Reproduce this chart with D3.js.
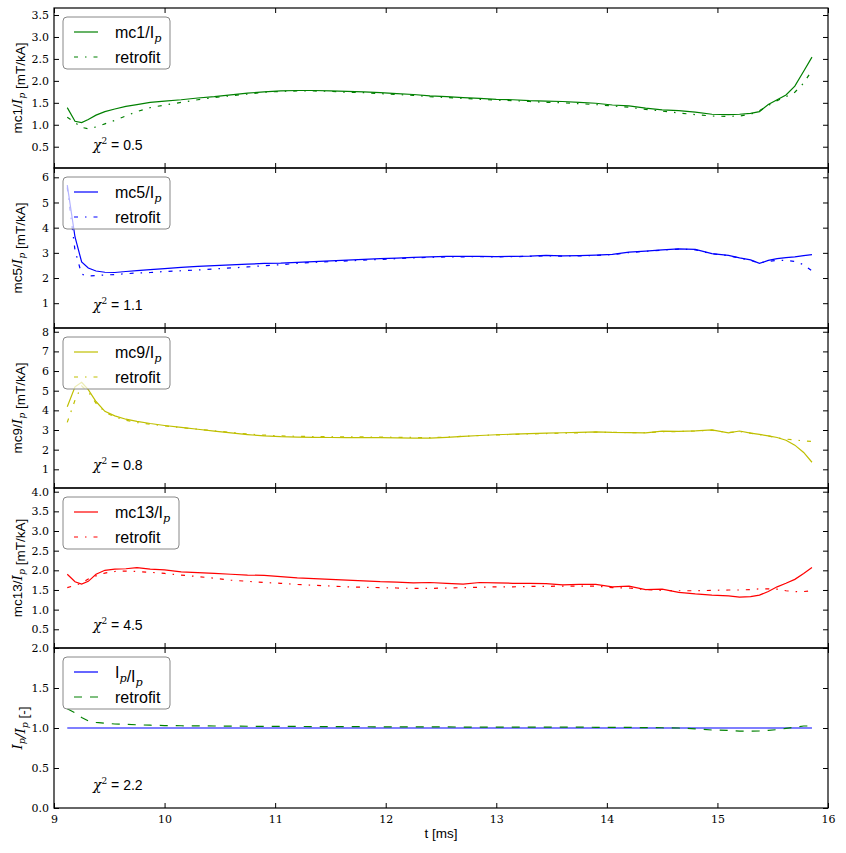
<!DOCTYPE html>
<html>
<head>
<meta charset="utf-8">
<script src="https://cdn.jsdelivr.net/npm/d3@7"></script>
<style>
body { margin: 0; background: #fff; }
.tick text { font-family: "DejaVu Serif", serif; font-size: 11px; fill: #000; }
.tick line { stroke: #000; }
</style>
</head>
<body>
<div id="chart"></div>
<script>
// time base [ms]
var tMs = [9.12, 9.19, 9.25, 9.31, 9.38, 9.46, 9.55, 9.65, 9.75, 9.87,
    10.0, 10.15, 10.3, 10.45, 10.6, 10.75, 10.9, 11.05, 11.2, 11.35,
    11.5, 11.65, 11.8, 11.95, 12.1, 12.25, 12.4, 12.55, 12.7, 12.85,
    13.0, 13.15, 13.3, 13.45, 13.6, 13.75, 13.9, 14.05, 14.2, 14.35,
    14.5, 14.65, 14.8, 14.95, 15.1, 15.2, 15.3, 15.38, 15.46, 15.54,
    15.62, 15.7, 15.78, 15.855];

var mc1 = [1.39, 1.08, 1.05, 1.12, 1.22, 1.30, 1.36, 1.42, 1.46, 1.51,
    1.54, 1.57, 1.61, 1.64, 1.68, 1.72, 1.75, 1.77, 1.78, 1.78,
    1.77, 1.76, 1.75, 1.73, 1.71, 1.69, 1.66, 1.64, 1.62, 1.60,
    1.58, 1.57, 1.55, 1.54, 1.53, 1.51, 1.49, 1.45, 1.43, 1.38,
    1.34, 1.32, 1.29, 1.24, 1.23, 1.24, 1.26, 1.30, 1.46, 1.57,
    1.68, 1.88, 2.22, 2.54];
var mc1Fit = [1.17, 1.05, 0.94, 0.91, 0.95, 1.02, 1.10, 1.20, 1.30, 1.39,
    1.45, 1.51, 1.57, 1.62, 1.66, 1.70, 1.74, 1.76, 1.77, 1.77,
    1.76, 1.74, 1.73, 1.71, 1.69, 1.67, 1.64, 1.62, 1.60, 1.58,
    1.56, 1.55, 1.53, 1.51, 1.50, 1.48, 1.46, 1.43, 1.40, 1.35,
    1.31, 1.27, 1.23, 1.20, 1.19, 1.20, 1.24, 1.32, 1.44, 1.55,
    1.64, 1.74, 1.95, 2.24];

var mc5 = [5.69, 3.63, 2.64, 2.40, 2.28, 2.23, 2.22, 2.26, 2.29, 2.33,
    2.37, 2.42, 2.46, 2.49, 2.52, 2.55, 2.58, 2.59, 2.62, 2.65,
    2.68, 2.71, 2.74, 2.77, 2.79, 2.82, 2.84, 2.86, 2.86, 2.86,
    2.85, 2.86, 2.87, 2.90, 2.88, 2.89, 2.91, 2.94, 3.03, 3.07,
    3.12, 3.16, 3.14, 2.97, 2.90, 2.80, 2.72, 2.58, 2.70, 2.77,
    2.81, 2.84, 2.89, 2.93];
var mc5Fit = [5.60, 3.10, 2.15, 2.08, 2.10, 2.12, 2.14, 2.17, 2.20, 2.22,
    2.26, 2.29, 2.32, 2.36, 2.40, 2.44, 2.49, 2.53, 2.58, 2.62,
    2.65, 2.68, 2.71, 2.74, 2.77, 2.80, 2.82, 2.84, 2.84, 2.85,
    2.84, 2.85, 2.86, 2.88, 2.87, 2.88, 2.90, 2.93, 3.01, 3.06,
    3.11, 3.15, 3.12, 2.96, 2.89, 2.79, 2.70, 2.60, 2.66, 2.70,
    2.70, 2.66, 2.53, 2.28];

var mc9 = [4.18, 5.20, 5.43, 5.05, 4.45, 3.95, 3.72, 3.55, 3.44, 3.33,
    3.23, 3.13, 3.04, 2.94, 2.85, 2.77, 2.70, 2.66, 2.64, 2.63,
    2.62, 2.61, 2.61, 2.61, 2.60, 2.59, 2.59, 2.63, 2.68, 2.72,
    2.76, 2.79, 2.82, 2.84, 2.86, 2.88, 2.91, 2.88, 2.87, 2.85,
    2.94, 2.93, 2.96, 3.01, 2.86, 2.95, 2.84, 2.78, 2.70, 2.62,
    2.48, 2.23, 1.86, 1.36];
var mc9Fit = [3.39, 4.52, 5.24, 4.95, 4.36, 3.92, 3.66, 3.50, 3.38, 3.30,
    3.21, 3.12, 3.04, 2.96, 2.88, 2.80, 2.74, 2.70, 2.68, 2.67,
    2.66, 2.65, 2.65, 2.64, 2.63, 2.62, 2.61, 2.64, 2.68, 2.72,
    2.75, 2.78, 2.80, 2.82, 2.84, 2.86, 2.89, 2.88, 2.87, 2.86,
    2.92, 2.92, 2.95, 2.99, 2.87, 2.92, 2.84, 2.77, 2.70, 2.60,
    2.54, 2.49, 2.45, 2.42];

var mc13 = [1.90, 1.71, 1.65, 1.72, 1.90, 2.00, 2.03, 2.04, 2.07, 2.03,
    2.01, 1.96, 1.94, 1.92, 1.90, 1.88, 1.87, 1.84, 1.81, 1.79,
    1.77, 1.75, 1.73, 1.71, 1.70, 1.68, 1.69, 1.67, 1.65, 1.69,
    1.68, 1.67, 1.67, 1.66, 1.63, 1.64, 1.64, 1.58, 1.60, 1.51,
    1.52, 1.44, 1.40, 1.37, 1.35, 1.32, 1.33, 1.37, 1.46, 1.58,
    1.67, 1.77, 1.92, 2.07];
var mc13Fit = [1.56, 1.62, 1.67, 1.78, 1.86, 1.93, 1.97, 1.98, 1.97, 1.95,
    1.92, 1.88, 1.84, 1.80, 1.75, 1.72, 1.69, 1.67, 1.64, 1.62,
    1.60, 1.58, 1.57, 1.56, 1.55, 1.54, 1.54, 1.55, 1.56, 1.57,
    1.58, 1.58, 1.59, 1.59, 1.60, 1.60, 1.60, 1.56, 1.55, 1.51,
    1.49, 1.48, 1.48, 1.49, 1.50, 1.50, 1.51, 1.53, 1.53, 1.52,
    1.48, 1.46, 1.46, 1.48];

var ip = tMs.map(function () { return 1.0; });
var ipFit = [1.24, 1.19, 1.13, 1.09, 1.07, 1.06, 1.05, 1.045, 1.04, 1.035,
    1.03, 1.028, 1.026, 1.025, 1.024, 1.022, 1.021, 1.02, 1.019, 1.018,
    1.017, 1.016, 1.016, 1.015, 1.015, 1.014, 1.013, 1.013, 1.012, 1.012,
    1.011, 1.011, 1.011, 1.01, 1.01, 1.01, 1.009, 1.008, 1.007, 1.005,
    1.003, 1.0, 0.99, 0.975, 0.97, 0.962, 0.96, 0.963, 0.97, 0.98,
    0.995, 1.01, 1.025, 1.025];

var chi2 = [0.5, 1.1, 0.8, 4.5, 2.2];
var xTicks = [9, 10, 11, 12, 13, 14, 15, 16];
var mc1Ticks = [0.5, 1.0, 1.5, 2.0, 2.5, 3.0, 3.5];
var mc5Ticks = [1, 2, 3, 4, 5, 6];
var mc9Ticks = [1, 2, 3, 4, 5, 6, 7, 8];
var mc13Ticks = [0.5, 1.0, 1.5, 2.0, 2.5, 3.0, 3.5, 4.0];
var ipTicks = [0.0, 0.5, 1.0, 1.5, 2.0];

var width = 846, height = 853;
var left = 54, right = 828, top0 = 8, panelH = 160;
var sans = "'Liberation Sans', Arial, sans-serif";
var serif = "'DejaVu Serif', serif";
var dashDot = "4,7,1.5,7";

var svg = d3.select("#chart").append("svg")
    .attr("width", width)
    .attr("height", height);

var x = d3.scaleLinear().domain([9, 16]).range([left, right]);

var panels = [
    {name: "mc1", meas: mc1, fit: mc1Fit, color: "#008000", dom: [0.015, 3.66], ticks: mc1Ticks, fmt: ".1f", dash: dashDot, legendW: 107},
    {name: "mc5", meas: mc5, fit: mc5Fit, color: "#0000ff", dom: [0.015, 6.37], ticks: mc5Ticks, fmt: "d", dash: dashDot, legendW: 107},
    {name: "mc9", meas: mc9, fit: mc9Fit, color: "#bfbf00", dom: [0.05, 8.19], ticks: mc9Ticks, fmt: "d", dash: dashDot, legendW: 107},
    {name: "mc13", meas: mc13, fit: mc13Fit, color: "#ff0000", dom: [0.024, 4.094], ticks: mc13Ticks, fmt: ".1f", dash: dashDot, legendW: 116},
    {name: "ip", meas: ip, fit: ipFit, color: "#0000ff", fitColor: "#008000", dom: [0, 2], ticks: ipTicks, fmt: ".1f", dash: "8,8", legendW: 107}
];

// writes "I" with an italic p subscript
function addIp(sel, font, size, italicI) {
    sel.append("tspan").attr("font-family", italicI ? serif : font)
        .attr("font-style", italicI ? "italic" : null).text("I");
    sel.append("tspan").attr("font-family", serif).attr("font-style", "italic")
        .attr("font-size", size * 0.7).attr("dy", size * 0.25).text("p");
    sel.append("tspan").attr("dy", -size * 0.25).text("");
}

panels.forEach(function (p, i) {
    var y0 = top0 + i * panelH;
    var y = d3.scaleLinear().domain(p.dom).range([y0 + panelH, y0]);
    var g = svg.append("g");

    g.append("clipPath").attr("id", "clip" + i)
        .append("rect").attr("x", left).attr("y", y0).attr("width", right - left).attr("height", panelH);

    var line = d3.line()
        .x(function (d, k) { return x(tMs[k]); })
        .y(function (d) { return y(d); });

    var plot = g.append("g").attr("clip-path", "url(#clip" + i + ")");
    plot.append("path").datum(p.meas)
        .attr("d", line).attr("fill", "none")
        .attr("stroke", p.color).attr("stroke-width", 1.2);
    plot.append("path").datum(p.fit)
        .attr("d", line).attr("fill", "none")
        .attr("stroke", p.fitColor || p.color).attr("stroke-width", 1.2)
        .attr("stroke-dasharray", p.dash);

    // ticks on all four sides, pointing inward
    g.append("g").attr("transform", "translate(" + left + ",0)")
        .call(d3.axisLeft(y).tickValues(p.ticks).tickFormat(d3.format(p.fmt))
            .tickSizeInner(-5).tickSizeOuter(0).tickPadding(5))
        .call(function (a) { a.select(".domain").remove(); });
    g.append("g").attr("transform", "translate(" + right + ",0)")
        .call(d3.axisRight(y).tickValues(p.ticks).tickFormat("")
            .tickSizeInner(-5).tickSizeOuter(0))
        .call(function (a) { a.select(".domain").remove(); });
    g.append("g").attr("transform", "translate(0," + y0 + ")")
        .call(d3.axisTop(x).tickValues(xTicks).tickFormat("")
            .tickSizeInner(-5).tickSizeOuter(0))
        .call(function (a) { a.select(".domain").remove(); });
    g.append("g").attr("transform", "translate(0," + (y0 + panelH) + ")")
        .call(d3.axisBottom(x).tickValues(xTicks).tickFormat(i === 4 ? d3.format("d") : "")
            .tickSizeInner(-5).tickSizeOuter(0).tickPadding(7))
        .call(function (a) { a.select(".domain").remove(); });

    g.append("rect").attr("x", left).attr("y", y0)
        .attr("width", right - left).attr("height", panelH)
        .attr("fill", "none").attr("stroke", "#000").attr("stroke-width", 1.2);

    // legend
    var lg = g.append("g").attr("transform", "translate(63," + (y0 + 9) + ")");
    lg.append("rect").attr("width", p.legendW).attr("height", 52).attr("rx", 4)
        .attr("fill", "#fff").attr("fill-opacity", 0.7)
        .attr("stroke", "#888").attr("stroke-width", 1);
    lg.append("line").attr("x1", 11).attr("x2", 35).attr("y1", 15).attr("y2", 15)
        .attr("stroke", p.color).attr("stroke-width", 1.2);
    lg.append("line").attr("x1", 11).attr("x2", 35).attr("y1", 40).attr("y2", 40)
        .attr("stroke", p.fitColor || p.color).attr("stroke-width", 1.2)
        .attr("stroke-dasharray", p.dash);
    var t1 = lg.append("text").attr("x", 52).attr("y", 21)
        .attr("font-family", sans).attr("font-size", 16);
    if (i === 4) {
        addIp(t1, sans, 16, false);
        t1.append("tspan").text("/");
        addIp(t1, sans, 16, false);
    } else {
        t1.append("tspan").text(p.name + "/");
        addIp(t1, sans, 16, false);
    }
    lg.append("text").attr("x", 52).attr("y", 46)
        .attr("font-family", sans).attr("font-size", 16).text("retrofit");

    // chi-squared
    var ct = g.append("text").attr("x", 93).attr("y", y0 + 142)
        .attr("font-family", sans).attr("font-size", 14);
    ct.append("tspan").attr("font-family", serif).attr("font-style", "italic").text("χ");
    ct.append("tspan").attr("font-size", 9).attr("dy", -6).attr("font-family", serif).text("2");
    ct.append("tspan").attr("dy", 6).text(" = " + d3.format(".1f")(chi2[i]));

    // y label
    var yl = g.append("text")
        .attr("transform", "translate(17," + (y0 + panelH / 2) + ") rotate(-90)")
        .attr("text-anchor", "middle").attr("dy", "0.35em")
        .attr("font-family", sans).attr("font-size", 13.5);
    if (i === 4) {
        addIp(yl, sans, 13.5, true);
        yl.append("tspan").attr("font-family", serif).attr("font-style", "italic").text("/");
        addIp(yl, sans, 13.5, true);
        yl.append("tspan").text(" [-]");
    } else {
        yl.append("tspan").text(p.name + "/");
        addIp(yl, sans, 13.5, true);
        yl.append("tspan").text(" [mT/kA]");
    }
});

svg.append("text").attr("x", (left + right) / 2).attr("y", 838)
    .attr("text-anchor", "middle")
    .attr("font-family", sans).attr("font-size", 13.5).text("t [ms]");
</script>
</body>
</html>
